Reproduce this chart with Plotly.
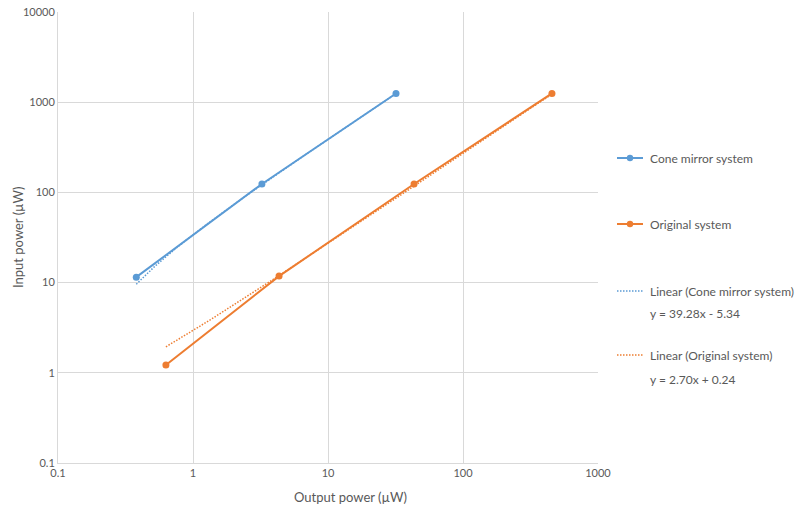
import numpy as np
import plotly.graph_objects as go

# Data
cone_output = [0.38, 3.24, 31.9]
cone_input = [11.5, 124, 1250]
orig_output = [0.63, 4.34, 43.4, 456]
orig_input = [1.22, 11.8, 124, 1250]

# Trendline coefficients (as labelled)
cone_slope, cone_icpt = 39.28, -5.34
orig_slope, orig_icpt = 2.70, 0.24

x_ticks = [0.1, 1, 10, 100, 1000]
x_tick_labels = ["0.1", "1", "10", "100", "1000"]
y_ticks = [0.1, 1, 10, 100, 1000, 10000]
y_tick_labels = ["0.1", "1", "10", "100", "1000", "10000"]

BLUE = "#5B9BD5"
ORANGE = "#ED7D31"
TXT = "#595959"
GRID = "#D9D9D9"
FONT = "Lato"
DOT = "1.5px,1.5px"

fig = go.Figure()

cx = np.geomspace(min(cone_output), max(cone_output), 200)
ox = np.geomspace(min(orig_output), max(orig_output), 200)
fig.add_trace(go.Scatter(x=cx, y=cone_slope * cx + cone_icpt, mode="lines",
                         line=dict(color=BLUE, width=1.5, dash=DOT), hoverinfo="skip"))
fig.add_trace(go.Scatter(x=ox, y=orig_slope * ox + orig_icpt, mode="lines",
                         line=dict(color=ORANGE, width=1.5, dash=DOT), hoverinfo="skip"))
fig.add_trace(go.Scatter(x=cone_output, y=cone_input, mode="lines+markers",
                         line=dict(color=BLUE, width=2), marker=dict(size=7, color=BLUE)))
fig.add_trace(go.Scatter(x=orig_output, y=orig_input, mode="lines+markers",
                         line=dict(color=ORANGE, width=2), marker=dict(size=7, color=ORANGE)))

L, T, R, B = 58, 12, 598, 463
W, H = 795, 510


def px(xp):
    return (xp - L) / (R - L)


def py(yp):
    return (B - yp) / (B - T)


shapes = []
annotations = []
legend_items = [
    ("Cone mirror system", BLUE, "solid", 158),
    ("Original system", ORANGE, "solid", 224),
    ("Linear (Cone mirror system)", BLUE, DOT, 291),
    ("Linear (Original system)", ORANGE, DOT, 355),
]
for name, col, dash, yy in legend_items:
    shapes.append(dict(type="line", xref="paper", yref="paper", x0=px(617), x1=px(643),
                       y0=py(yy), y1=py(yy), line=dict(color=col, width=2 if dash == "solid" else 1.5, dash=dash)))
    if dash == "solid":
        r = 3.2
        shapes.append(dict(type="circle", xref="paper", yref="paper", x0=px(630 - r), x1=px(630 + r),
                           y0=py(yy + r), y1=py(yy - r), fillcolor=col, line=dict(color=col, width=0)))
    annotations.append(dict(text=name, xref="paper", yref="paper", x=px(648), y=py(yy),
                            xanchor="left", yanchor="middle", showarrow=False,
                            font=dict(size=12, color=TXT, family=FONT)))

for eq, yy in [("y = 39.28x - 5.34", 313), ("y = 2.70x + 0.24", 379)]:
    annotations.append(dict(text=eq, xref="paper", yref="paper", x=px(648), y=py(yy),
                            xanchor="left", yanchor="middle", showarrow=False,
                            font=dict(size=12, color=TXT, family=FONT)))

# axis titles as annotations for exact placement
annotations.append(dict(text="Output power (µW)", xref="paper", yref="paper", x=px(350), y=py(497),
                        xanchor="center", yanchor="middle", showarrow=False,
                        font=dict(size=13, color=TXT, family=FONT)))
annotations.append(dict(text="Input power (µW)", xref="paper", yref="paper", x=px(18), y=py(237),
                        xanchor="center", yanchor="middle", showarrow=False, textangle=-90,
                        font=dict(size=13, color=TXT, family=FONT)))

fig.update_layout(
    width=W, height=H,
    margin=dict(l=L, r=W - R, t=T, b=H - B, autoexpand=False),
    paper_bgcolor="white", plot_bgcolor="white",
    showlegend=False,
    font=dict(family=FONT, color=TXT, size=11),
    shapes=shapes, annotations=annotations,
    xaxis=dict(type="log", range=[-1, 3], tickvals=x_ticks, ticktext=x_tick_labels,
               showgrid=True, gridcolor=GRID, gridwidth=1, showline=True, linecolor=GRID, linewidth=1,
               mirror=False, zeroline=False, ticks="", automargin=False,
               tickfont=dict(size=11, color=TXT)),
    yaxis=dict(type="log", range=[-1, 4], tickvals=y_ticks, ticktext=y_tick_labels,
               showgrid=True, gridcolor=GRID, gridwidth=1, showline=True, linecolor=GRID, linewidth=1,
               zeroline=False, ticks="", automargin=False,
               tickfont=dict(size=11, color=TXT)),
)

fig.write_html("out.html")
